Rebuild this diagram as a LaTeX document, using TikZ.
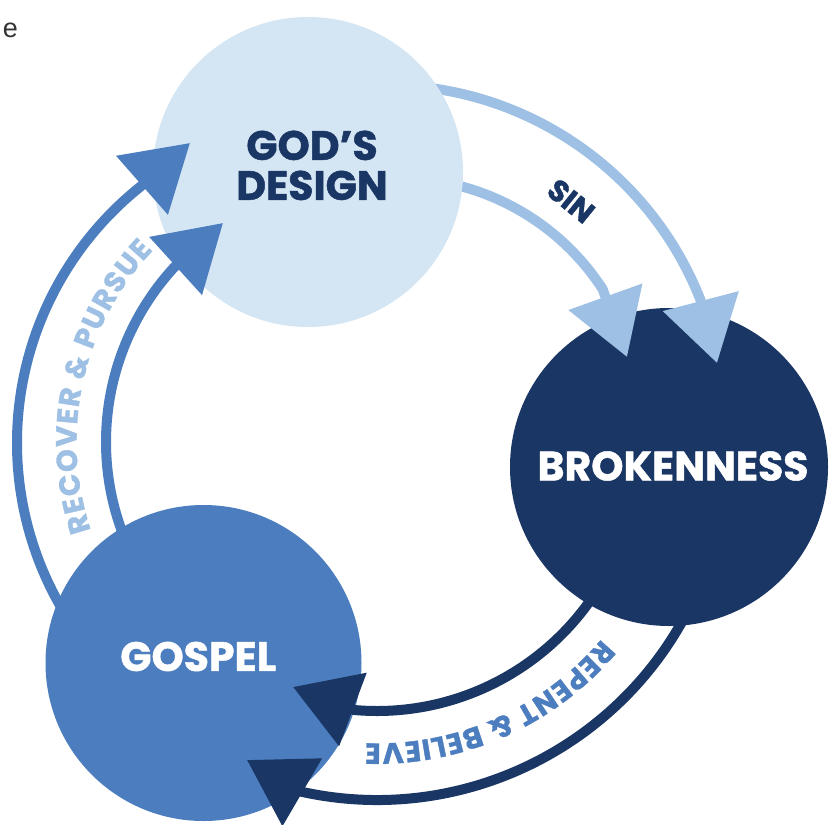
\documentclass[tikz,border=0pt]{standalone}
\usepackage{fontspec}
\newfontfamily\popb{Poppins}[BoldFeatures={FakeBold=1.2}]
\newfontfamily\arialfont{Liberation Sans}
\usetikzlibrary{arrows.meta,decorations.text}
\definecolor{godfill}{HTML}{D4E6F3}
\definecolor{sinblue}{HTML}{9DC0E4}
\definecolor{navy}{HTML}{1A3664}
\definecolor{midblue}{HTML}{4C7EBF}
\newcommand\bigfont{\popb\bfseries\fontsize{41}{40}\selectfont}
\newcommand\arcfont{\popb\bfseries\fontsize{29}{29}\selectfont}
\newcommand\sinfont{\popb\bfseries\fontsize{30}{30}\selectfont}
\begin{document}
\begin{tikzpicture}[x=1pt,y=1pt,
  bigcircle/.style={circle, inner sep=0pt, outer sep=0pt},
  flow/.style={line width=10pt, -{Triangle[length=64pt,width=76pt]}},
  biglabel/.style={font=\bigfont, align=center, inner sep=0pt},
]
\useasboundingbox (0,0) rectangle (837,-824);
\fill[white] (0,0) rectangle (837,-824);
\node[font=\arialfont\fontsize{27}{27}\selectfont, text=black!80, inner sep=0pt] (e) at (10.5,-30.5) {e};

% centres of the arcs and arrow tips
\coordinate (sinOutC) at (385,-424);
\coordinate (sinInC) at (398,-422);
\coordinate (recOutC) at (345,-443);
\coordinate (recInC) at (364,-442);
\coordinate (repC) at (377,-450);
\coordinate (sinOutTip) at (717,-363);
\coordinate (sinInTip) at (627,-357);
\coordinate (recOutTip) at (190,-143);
\coordinate (recInTip) at (223,-223);
\coordinate (repOutTip) at (247,-760);
\coordinate (repInTip) at (293,-687);

% God's design circle
\node[bigcircle, fill=godfill, minimum size=310pt] (god) at (308,-172) {};

% recover & pursue arrows
\draw[flow, midblue] ([shift={(recOutC)}]-140:328pt) arc[start angle=-140, end angle=-231.4, radius=328pt] -- (recOutTip);
\draw[flow, midblue] ([shift={(recInC)}]-150:258pt) arc[start angle=-150, end angle=-222.6, radius=258pt] -- (recInTip);

% gospel circle
\node[bigcircle, fill=midblue, minimum size=316pt] (gospel) at (203.5,-663) {};

% repent & believe arrows
\draw[flow, navy] ([shift={(repC)}]-20:350pt) arc[start angle=-20, end angle=-102.5, radius=350pt] -- (repOutTip);
\draw[flow, navy] ([shift={(repC)}]-30:261pt) arc[start angle=-30, end angle=-95, radius=261pt] -- (repInTip);

% brokenness circle
\node[bigcircle, fill=navy, minimum size=318pt] (broken) at (669,-467) {};

% sin arrows, kept outside God's circle
\begin{scope}[even odd rule]
\clip (0,0) rectangle (837,-824) (god.center) circle[radius=155pt];
\draw[flow, sinblue] ([shift={(sinOutC)}]95:339pt) arc[start angle=95, end angle=21.5, radius=339pt] -- (sinOutTip);
\draw[flow, sinblue] ([shift={(sinInC)}]100:244pt) arc[start angle=100, end angle=33, radius=244pt] -- (sinInTip);
\end{scope}

% arc labels
\path[decorate, decoration={text along path, text={|\arcfont|RECOVER {\&} PURSUE}, text align={fit to path}, text color=sinblue}]
  ([shift={(355,-442)}]-161.5:278.5pt) arc[start angle=-161.5, end angle=-223.5, radius=278.5pt];
\path[decorate, decoration={text along path, text={|\arcfont|REPENT {\&} BELIEVE}, text align={fit to path}, text color=midblue}]
  ([shift={(repC)}]-40.1:293.5pt) arc[start angle=-40.1, end angle=-92.3, radius=293.5pt];
\node[font=\sinfont, text=navy, rotate=-39, inner sep=0pt] (sin) at (571,-201) {SIN};

% circle labels
\node[biglabel, text=navy] (godtext) at (312,-165.4) {GOD’S\\DESIGN};
\node[biglabel, text=white] (brokentext) at (673,-466) {BROKENNESS};
\node[biglabel, text=white] (gospeltext) at (198.3,-656.5) {GOSPEL};
\end{tikzpicture}
\end{document}
